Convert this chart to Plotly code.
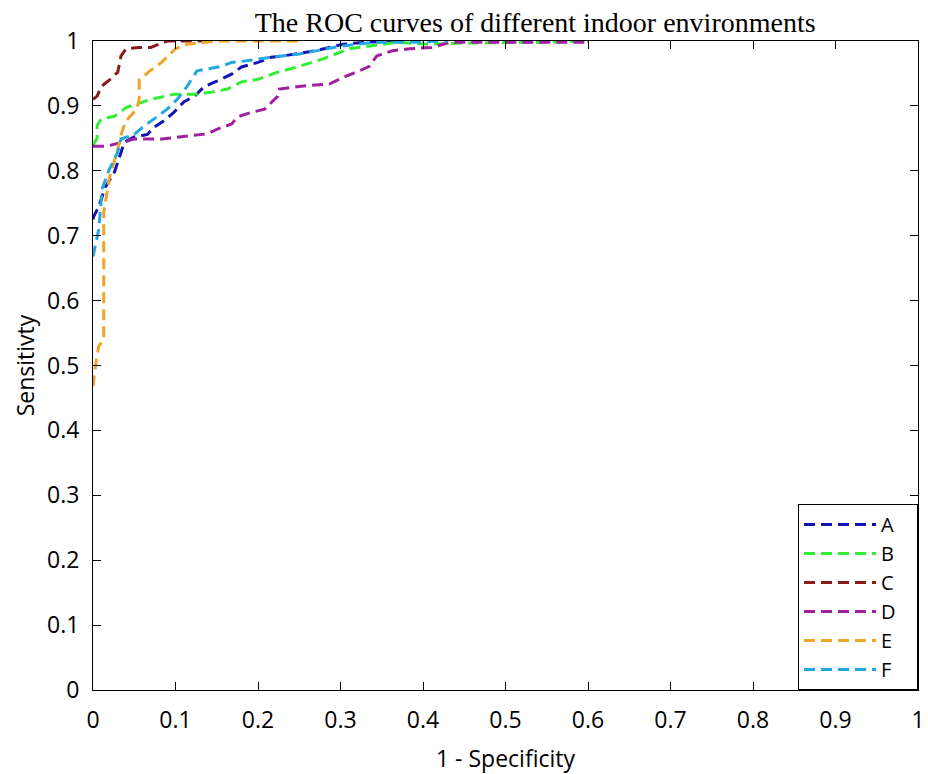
import plotly.graph_objects as go

# Data
A_x = [0, 0.001, 0.007, 0.015, 0.026, 0.038, 0.05, 0.066, 0.074, 0.086, 0.098, 0.11, 0.123, 0.135, 0.15, 0.168, 0.18, 0.2, 0.216, 0.23, 0.27, 0.303, 0.33, 0.368]
A_y = [0.725, 0.73, 0.745, 0.775, 0.798, 0.844, 0.852, 0.856, 0.867, 0.877, 0.89, 0.906, 0.915, 0.93, 0.938, 0.949, 0.96, 0.967, 0.975, 0.977, 0.985, 0.995, 0.998, 1.0]

B_x = [0, 0.005, 0.005, 0.01, 0.026, 0.041, 0.07, 0.098, 0.123, 0.143, 0.163, 0.18, 0.2, 0.224, 0.25, 0.278, 0.3, 0.311, 0.368, 0.408, 0.45, 0.55, 0.6]
B_y = [0.84, 0.85, 0.87, 0.88, 0.884, 0.898, 0.91, 0.918, 0.918, 0.921, 0.926, 0.937, 0.941, 0.952, 0.961, 0.972, 0.983, 0.988, 0.998, 0.995, 0.997, 0.998, 1.0]

C_x = [0, 0.005, 0.01, 0.02, 0.03, 0.034, 0.04, 0.055, 0.07, 0.09, 0.1, 0.14]
C_y = [0.91, 0.915, 0.93, 0.94, 0.952, 0.977, 0.988, 0.99, 0.99, 1.0, 1.0, 1.0]

D_x = [0, 0.017, 0.05, 0.083, 0.11, 0.139, 0.15, 0.168, 0.175, 0.192, 0.208, 0.218, 0.224, 0.226, 0.25, 0.287, 0.307, 0.323, 0.335, 0.344, 0.363, 0.384, 0.41, 0.433, 0.5, 0.6]
D_y = [0.838, 0.838, 0.849, 0.849, 0.853, 0.857, 0.864, 0.872, 0.883, 0.89, 0.895, 0.907, 0.915, 0.926, 0.93, 0.934, 0.946, 0.954, 0.961, 0.977, 0.985, 0.988, 0.99, 0.998, 0.998, 0.998]

E_x = [0, 0.003, 0.007, 0.013, 0.013, 0.02, 0.03, 0.035, 0.04, 0.053, 0.056, 0.056, 0.07, 0.083, 0.1, 0.114, 0.15, 0.25]
E_y = [0.468, 0.5, 0.53, 0.54, 0.736, 0.79, 0.833, 0.86, 0.877, 0.895, 0.91, 0.94, 0.955, 0.967, 0.988, 0.995, 1.0, 1.0]

F_x = [0, 0.007, 0.011, 0.019, 0.03, 0.034, 0.05, 0.062, 0.074, 0.09, 0.102, 0.114, 0.126, 0.139, 0.156, 0.168, 0.183, 0.216, 0.25, 0.3, 0.34, 0.384, 0.43]
F_y = [0.668, 0.71, 0.772, 0.8, 0.829, 0.849, 0.856, 0.869, 0.88, 0.895, 0.91, 0.93, 0.954, 0.957, 0.961, 0.967, 0.969, 0.975, 0.98, 0.992, 0.998, 0.998, 1.0]

names = ["A", "B", "C", "D", "E", "F"]
xs = [A_x, B_x, C_x, D_x, E_x, F_x]
ys = [A_y, B_y, C_y, D_y, E_y, F_y]
colors = ["#1414b4", "#33ee33", "#8b1c1c", "#a020a0", "#f0a428", "#22a8e0"]

x_ticks = [0, 0.1, 0.2, 0.3, 0.4, 0.5, 0.6, 0.7, 0.8, 0.9, 1]
x_tick_text = ["0", "0.1", "0.2", "0.3", "0.4", "0.5", "0.6", "0.7", "0.8", "0.9", "1"]
y_ticks = x_ticks
y_tick_text = x_tick_text

PAD = "\u00a0\u00a0\u00a0"  # invisible right padding inside the legend box

fig = go.Figure()
for n, x, y, c in zip(names, xs, ys, colors):
    fig.add_trace(go.Scatter(x=x, y=y, name=n + PAD, mode="lines",
                             line=dict(color=c, width=3, dash="11px,6px")))

font_sans = "Open Sans, Liberation Sans, sans-serif"
axis_common = dict(range=[0, 1], showgrid=False, zeroline=False, showline=True,
                   linecolor="black", linewidth=1, mirror="ticks", ticks="inside",
                   ticklen=8, tickcolor="black", automargin=False,
                   tickfont=dict(family=font_sans, size=23, color="black"))

W, H = 920, 766  # page body margin of 8px offsets the figure inside the window
fig.update_layout(
    width=W, height=H,
    margin=dict(l=85, r=10, t=33, b=84),
    paper_bgcolor="white", plot_bgcolor="white",
    title=dict(text="The ROC curves of different indoor environments",
               font=dict(family="Liberation Serif, DejaVu Serif, serif", size=28, color="black"),
               xref="container", x=0.573, xanchor="center",
               yref="container", y=0.981, yanchor="middle"),
    xaxis=dict(tickvals=x_ticks, ticktext=x_tick_text, ticklabelstandoff=9,
               title=dict(text="1 - Specificity", font=dict(family=font_sans, size=23, color="black"), standoff=18),
               **axis_common),
    yaxis=dict(tickvals=y_ticks, ticktext=y_tick_text, ticklabelstandoff=8,
               title=dict(text="Sensitivty", font=dict(family=font_sans, size=23, color="black"), standoff=6),
               **axis_common),
    legend=dict(x=1, xanchor="right", y=0, yanchor="bottom",
                bgcolor="white", bordercolor="black", borderwidth=1,
                font=dict(family=font_sans, size=20, color="black"),
                itemwidth=72, tracegroupgap=0),
    showlegend=True,
)

fig.write_html("out.html")
